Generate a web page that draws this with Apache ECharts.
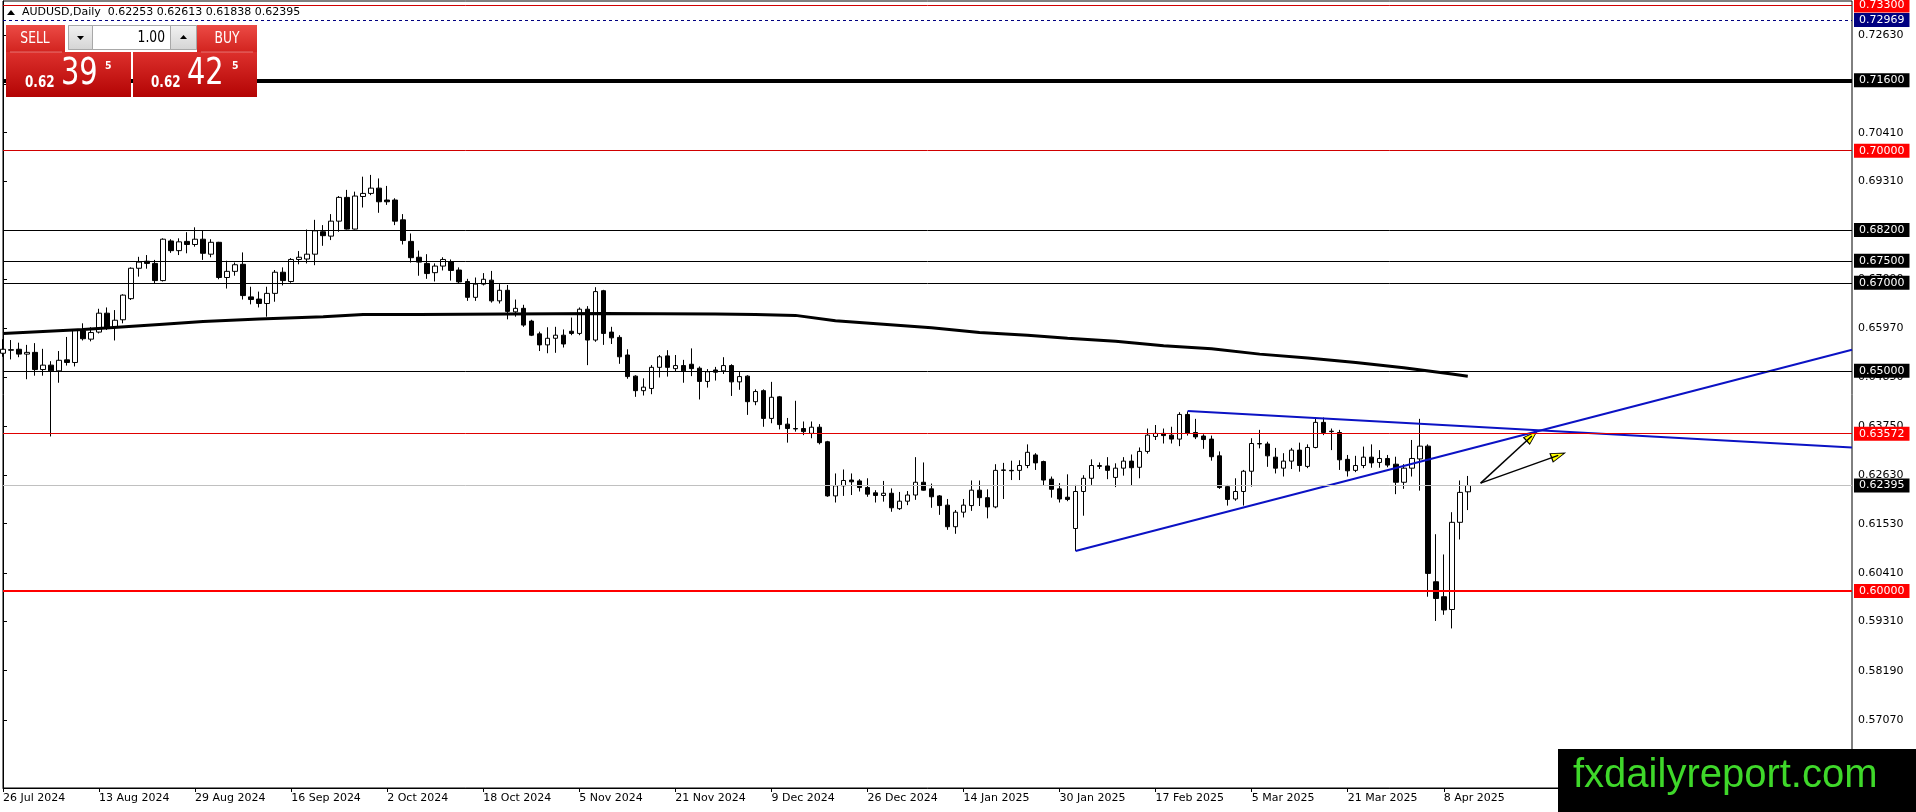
<!DOCTYPE html>
<html>
<head>
<meta charset="utf-8">
<title>AUDUSD Daily</title>
<script src="https://cdn.jsdelivr.net/npm/echarts@6.0.0/dist/echarts.min.js"></script>
<style>
html, body { margin: 0; padding: 0; background: #fff; }
#main { width: 1916px; height: 812px; }
</style>
</head>
<body>
<div id="main"></div>
<script>
var symbolName = 'AUDUSD,Daily';

// daily bars from 26 Jul 2024, [open, high, low, close]
var candles = [
    [0.6540, 0.6572, 0.6532, 0.6549], [0.6548, 0.6570, 0.6526, 0.6547], [0.6549, 0.6564, 0.6531, 0.6538], [0.6538, 0.6559, 0.6481, 0.6542],
    [0.6542, 0.6563, 0.6489, 0.6503], [0.6503, 0.6550, 0.6489, 0.6513], [0.6513, 0.6522, 0.6351, 0.6500], [0.6500, 0.6545, 0.6473, 0.6524],
    [0.6525, 0.6577, 0.6512, 0.6519], [0.6519, 0.6595, 0.6510, 0.6593], [0.6591, 0.6608, 0.6569, 0.6573], [0.6572, 0.6599, 0.6567, 0.6587],
    [0.6588, 0.6641, 0.6585, 0.6631], [0.6631, 0.6644, 0.6593, 0.6598], [0.6600, 0.6638, 0.6569, 0.6615], [0.6616, 0.6674, 0.6608, 0.6672],
    [0.6664, 0.6735, 0.6661, 0.6733], [0.6733, 0.6759, 0.6714, 0.6747], [0.6749, 0.6763, 0.6732, 0.6744], [0.6744, 0.6752, 0.6699, 0.6705],
    [0.6705, 0.6801, 0.6703, 0.6799], [0.6795, 0.6799, 0.6768, 0.6773], [0.6773, 0.6801, 0.6763, 0.6793], [0.6794, 0.6815, 0.6767, 0.6787],
    [0.6787, 0.6826, 0.6782, 0.6799], [0.6799, 0.6818, 0.6752, 0.6767], [0.6765, 0.6799, 0.6758, 0.6792], [0.6792, 0.6793, 0.6708, 0.6712],
    [0.6712, 0.6750, 0.6687, 0.6726], [0.6726, 0.6746, 0.6716, 0.6741], [0.6742, 0.6769, 0.6662, 0.6671], [0.6668, 0.6691, 0.6651, 0.6662],
    [0.6663, 0.6680, 0.6644, 0.6653], [0.6653, 0.6691, 0.6623, 0.6676], [0.6676, 0.6729, 0.6657, 0.6724], [0.6724, 0.6735, 0.6694, 0.6705],
    [0.6703, 0.6756, 0.6700, 0.6753], [0.6753, 0.6772, 0.6742, 0.6758], [0.6754, 0.6821, 0.6744, 0.6765], [0.6765, 0.6843, 0.6740, 0.6818],
    [0.6816, 0.6831, 0.6784, 0.6807], [0.6806, 0.6856, 0.6797, 0.6840], [0.6840, 0.6897, 0.6816, 0.6894], [0.6894, 0.6911, 0.6821, 0.6822],
    [0.6822, 0.6907, 0.6821, 0.6897], [0.6896, 0.6941, 0.6871, 0.6903], [0.6903, 0.6945, 0.6899, 0.6915], [0.6915, 0.6937, 0.6859, 0.6884],
    [0.6888, 0.6920, 0.6877, 0.6884], [0.6888, 0.6892, 0.6831, 0.6840], [0.6843, 0.6856, 0.6787, 0.6796], [0.6794, 0.6812, 0.6746, 0.6757],
    [0.6758, 0.6773, 0.6716, 0.6747], [0.6744, 0.6765, 0.6709, 0.6721], [0.6723, 0.6744, 0.6703, 0.6738], [0.6738, 0.6758, 0.6728, 0.6753],
    [0.6748, 0.6753, 0.6705, 0.6728], [0.6729, 0.6735, 0.6699, 0.6702], [0.6703, 0.6709, 0.6659, 0.6667], [0.6667, 0.6712, 0.6659, 0.6697],
    [0.6697, 0.6722, 0.6694, 0.6708], [0.6706, 0.6727, 0.6655, 0.6659], [0.6659, 0.6697, 0.6653, 0.6683], [0.6683, 0.6695, 0.6617, 0.6635],
    [0.6634, 0.6662, 0.6623, 0.6642], [0.6642, 0.6650, 0.6600, 0.6604], [0.6613, 0.6616, 0.6579, 0.6581], [0.6584, 0.6589, 0.6545, 0.6559],
    [0.6559, 0.6599, 0.6540, 0.6574], [0.6574, 0.6600, 0.6541, 0.6581], [0.6581, 0.6594, 0.6553, 0.6561], [0.6590, 0.6621, 0.6581, 0.6585],
    [0.6585, 0.6644, 0.6581, 0.6640], [0.6640, 0.6647, 0.6513, 0.6570], [0.6570, 0.6690, 0.6566, 0.6680], [0.6682, 0.6684, 0.6559, 0.6585],
    [0.6588, 0.6600, 0.6561, 0.6575], [0.6576, 0.6581, 0.6516, 0.6532], [0.6536, 0.6549, 0.6482, 0.6487], [0.6488, 0.6490, 0.6441, 0.6455],
    [0.6455, 0.6483, 0.6444, 0.6463], [0.6460, 0.6513, 0.6447, 0.6508], [0.6508, 0.6536, 0.6485, 0.6532], [0.6534, 0.6547, 0.6487, 0.6508],
    [0.6505, 0.6536, 0.6498, 0.6512], [0.6512, 0.6525, 0.6473, 0.6500], [0.6515, 0.6551, 0.6488, 0.6505], [0.6506, 0.6510, 0.6435, 0.6476],
    [0.6476, 0.6504, 0.6462, 0.6498], [0.6502, 0.6509, 0.6478, 0.6497], [0.6500, 0.6531, 0.6493, 0.6512], [0.6512, 0.6515, 0.6443, 0.6475],
    [0.6475, 0.6498, 0.6457, 0.6487], [0.6488, 0.6490, 0.6400, 0.6430], [0.6430, 0.6458, 0.6422, 0.6453], [0.6455, 0.6458, 0.6373, 0.6392],
    [0.6392, 0.6475, 0.6381, 0.6440], [0.6441, 0.6443, 0.6367, 0.6378], [0.6379, 0.6393, 0.6337, 0.6369], [0.6369, 0.6432, 0.6362, 0.6368],
    [0.6369, 0.6385, 0.6354, 0.6362], [0.6358, 0.6385, 0.6347, 0.6372], [0.6372, 0.6379, 0.6333, 0.6337], [0.6339, 0.6341, 0.6214, 0.6216],
    [0.6216, 0.6267, 0.6201, 0.6239], [0.6239, 0.6276, 0.6216, 0.6251], [0.6252, 0.6267, 0.6218, 0.6248], [0.6250, 0.6254, 0.6226, 0.6235],
    [0.6235, 0.6256, 0.6214, 0.6220], [0.6223, 0.6229, 0.6201, 0.6217], [0.6217, 0.6250, 0.6203, 0.6222], [0.6222, 0.6233, 0.6180, 0.6189],
    [0.6187, 0.6225, 0.6184, 0.6204], [0.6204, 0.6227, 0.6195, 0.6218], [0.6218, 0.6304, 0.6207, 0.6247], [0.6247, 0.6292, 0.6228, 0.6229],
    [0.6232, 0.6244, 0.6189, 0.6214], [0.6216, 0.6218, 0.6173, 0.6194], [0.6195, 0.6209, 0.6139, 0.6146], [0.6146, 0.6184, 0.6130, 0.6179],
    [0.6179, 0.6209, 0.6167, 0.6195], [0.6194, 0.6251, 0.6182, 0.6229], [0.6229, 0.6251, 0.6193, 0.6212], [0.6212, 0.6231, 0.6165, 0.6191],
    [0.6191, 0.6288, 0.6188, 0.6274], [0.6275, 0.6291, 0.6209, 0.6274], [0.6274, 0.6296, 0.6252, 0.6273], [0.6274, 0.6297, 0.6252, 0.6285],
    [0.6285, 0.6333, 0.6279, 0.6315], [0.6309, 0.6313, 0.6275, 0.6291], [0.6294, 0.6296, 0.6239, 0.6252], [0.6254, 0.6260, 0.6212, 0.6231],
    [0.6232, 0.6245, 0.6201, 0.6209], [0.6213, 0.6265, 0.6204, 0.6208], [0.6142, 0.6241, 0.6091, 0.6226], [0.6226, 0.6263, 0.6171, 0.6256],
    [0.6256, 0.6299, 0.6241, 0.6285], [0.6283, 0.6292, 0.6277, 0.6285], [0.6284, 0.6304, 0.6254, 0.6274], [0.6258, 0.6290, 0.6236, 0.6279],
    [0.6279, 0.6304, 0.6262, 0.6295], [0.6295, 0.6310, 0.6239, 0.6280], [0.6281, 0.6326, 0.6256, 0.6317], [0.6317, 0.6369, 0.6312, 0.6354],
    [0.6351, 0.6377, 0.6343, 0.6358], [0.6358, 0.6369, 0.6335, 0.6353], [0.6354, 0.6373, 0.6335, 0.6345], [0.6345, 0.6406, 0.6329, 0.6401],
    [0.6401, 0.6408, 0.6353, 0.6358], [0.6360, 0.6391, 0.6345, 0.6350], [0.6352, 0.6356, 0.6323, 0.6344], [0.6345, 0.6353, 0.6296, 0.6305],
    [0.6307, 0.6317, 0.6232, 0.6235], [0.6237, 0.6241, 0.6194, 0.6208], [0.6209, 0.6256, 0.6205, 0.6226], [0.6226, 0.6275, 0.6194, 0.6272],
    [0.6272, 0.6347, 0.6237, 0.6335], [0.6334, 0.6366, 0.6324, 0.6335], [0.6334, 0.6339, 0.6282, 0.6307], [0.6304, 0.6325, 0.6267, 0.6279],
    [0.6279, 0.6313, 0.6260, 0.6295], [0.6295, 0.6325, 0.6277, 0.6320], [0.6320, 0.6337, 0.6271, 0.6285], [0.6283, 0.6333, 0.6279, 0.6326],
    [0.6326, 0.6394, 0.6324, 0.6383], [0.6383, 0.6394, 0.6354, 0.6360], [0.6363, 0.6369, 0.6320, 0.6362], [0.6360, 0.6366, 0.6275, 0.6298],
    [0.6299, 0.6309, 0.6260, 0.6273], [0.6274, 0.6307, 0.6270, 0.6285], [0.6285, 0.6328, 0.6279, 0.6304], [0.6304, 0.6333, 0.6280, 0.6291],
    [0.6292, 0.6320, 0.6280, 0.6301], [0.6301, 0.6309, 0.6281, 0.6286], [0.6288, 0.6305, 0.6220, 0.6247], [0.6247, 0.6288, 0.6232, 0.6279],
    [0.6279, 0.6343, 0.6260, 0.6301], [0.6300, 0.6391, 0.6228, 0.6329], [0.6329, 0.6333, 0.5987, 0.6040], [0.6021, 0.6129, 0.5932, 0.5983],
    [0.5987, 0.6083, 0.5946, 0.5957], [0.5958, 0.6179, 0.5915, 0.6156], [0.6156, 0.6251, 0.6117, 0.6224], [0.62253, 0.62613, 0.61838, 0.62395]
];

// moving average: [bar, value]
var maPoints = [
    [0, 0.6585], [10, 0.6594], [20, 0.6606], [25, 0.6612], [32, 0.6618], [40, 0.6623], [45, 0.6628],
    [52, 0.6628], [63, 0.6629], [75, 0.6630], [89, 0.6629], [94, 0.6628], [99, 0.6626], [104, 0.6614],
    [110, 0.6606], [116, 0.6598], [122, 0.6587], [128, 0.6581], [133, 0.6574], [139, 0.6567], [145, 0.6557],
    [151, 0.6550], [157, 0.6538], [163, 0.6529], [169, 0.6519], [175, 0.6507], [181, 0.6493], [183, 0.6488]
];

// trend lines [bar, price]
var supportLine = [[134, 0.6091], [231, 0.6548]];
var resistLine = [[148, 0.6409], [231, 0.6326]];

// the two yellow arrows
var arrowTail = [184.6, 0.6245];
var arrowHeads = [[191.0, 0.6352], [194.3, 0.6308]];

// horizontal levels
var levelValues = [0.73300, 0.72969, 0.71600, 0.70000, 0.68200, 0.67500, 0.67000, 0.65000, 0.63572, 0.62395, 0.60000];

var priceTicks = [0.72630, 0.71520, 0.70410, 0.69310, 0.68200, 0.67090, 0.65970, 0.64850,
    0.63750, 0.62630, 0.61530, 0.60410, 0.59310, 0.58190, 0.57070];

var firstDay = '2024-07-26';
var holidays = ['2024-12-25', '2025-01-01'];
var barCount = 232;
var labelEvery = 12;

var sellPrice = ['0.62', '39', '5'];
var buyPrice = ['0.62', '42', '5'];
var lotSize = '1.00';

// ---------------------------------------------------------------

var monthNames = ['Jan', 'Feb', 'Mar', 'Apr', 'May', 'Jun', 'Jul', 'Aug', 'Sep', 'Oct', 'Nov', 'Dec'];

function tradingDays(start, count) {
    var out = [];
    var d = new Date(start + 'T00:00:00Z');
    while (out.length < count) {
        var wd = d.getUTCDay();
        var iso = d.toISOString().slice(0, 10);
        if (wd !== 0 && wd !== 6 && holidays.indexOf(iso) < 0) {
            out.push(d.getUTCDate() + ' ' + monthNames[d.getUTCMonth()] + ' ' + d.getUTCFullYear());
        }
        d.setUTCDate(d.getUTCDate() + 1);
    }
    return out;
}

var dates = tradingDays(firstDay, barCount);
var lastBar = candles.length - 1;

function showDate(index) {
    return index % labelEvery === 0 && index <= lastBar;
}

var levelLook = [
    { line: '#d00000', width: 1, type: 'solid', box: '#ff0000' },
    { line: '#000080', width: 1, type: [3, 3], box: '#000080' },
    { line: '#000000', width: 4, type: 'solid', box: '#000000' },
    { line: '#d00000', width: 1, type: 'solid', box: '#ff0000' },
    { line: '#000000', width: 1, type: 'solid', box: '#000000' },
    { line: '#000000', width: 1, type: 'solid', box: '#000000' },
    { line: '#000000', width: 1, type: 'solid', box: '#000000' },
    { line: '#000000', width: 1, type: 'solid', box: '#000000' },
    { line: '#e00000', width: 1, type: 'solid', box: '#ff0000' },
    { line: '#c0c0c0', width: 1, type: 'solid', box: '#000000' },
    { line: '#ff0000', width: 2, type: 'solid', box: '#ff0000' }
];

var font = 'DejaVu Sans';

var levelData = levelValues.map(function (v, i) {
    var s = levelLook[i];
    return {
        yAxis: v,
        lineStyle: { color: s.line, width: s.width, type: s.type },
        label: { backgroundColor: s.box }
    };
});

var arrowTurn = [-47, -70];

var redTop = new echarts.graphic.LinearGradient(0, 0, 0, 1, [
    { offset: 0, color: '#ec4b45' }, { offset: 1, color: '#d2231f' }
]);
var redBig = new echarts.graphic.LinearGradient(0, 0, 0, 1, [
    { offset: 0, color: '#dd302c' }, { offset: 1, color: '#b30404' }
]);
var greyBtn = new echarts.graphic.LinearGradient(0, 0, 0, 1, [
    { offset: 0, color: '#f2f2f2' }, { offset: 1, color: '#d4d4d4' }
]);

function txt(x, y, text, size, opts) {
    opts = opts || {};
    return {
        type: 'text', x: x, y: y, z: 101,
        scaleX: opts.sx || 1,
        style: {
            text: text, fill: opts.fill || '#fff',
            fontFamily: opts.family || font, fontSize: size,
            fontWeight: opts.bold ? 'bold' : 'normal',
            align: opts.align || 'left', verticalAlign: 'middle'
        }
    };
}

var last = candles[lastBar];
var headerText = symbolName + '  ' + [last[0], last[1], last[2], last[3]].map(function (v) {
    return v.toFixed(5);
}).join(' ');

var panel = [
    // header
    { type: 'polygon', z: 101, shape: { points: [[7, 15], [15, 15], [11, 10]] }, style: { fill: '#000' } },
    txt(22, 12, headerText, 11, { fill: '#000' }),
    // sell / buy buttons
    { type: 'rect', z: 100, shape: { x: 6, y: 25, width: 59, height: 27 }, style: { fill: redTop } },
    { type: 'rect', z: 100, shape: { x: 197, y: 25, width: 60, height: 27 }, style: { fill: redTop } },
    { type: 'rect', z: 100, shape: { x: 6, y: 52, width: 125, height: 45 }, style: { fill: redBig } },
    { type: 'rect', z: 100, shape: { x: 133, y: 52, width: 124, height: 45 }, style: { fill: redBig } },
    { type: 'line', z: 101, shape: { x1: 10, y1: 52, x2: 62, y2: 52 }, style: { stroke: 'rgba(255,255,255,0.35)', lineWidth: 1 } },
    { type: 'line', z: 101, shape: { x1: 201, y1: 52, x2: 253, y2: 52 }, style: { stroke: 'rgba(255,255,255,0.35)', lineWidth: 1 } },
    txt(35, 39, 'SELL', 15, { align: 'center', sx: 0.82 }),
    txt(227, 39, 'BUY', 15, { align: 'center', sx: 0.82 }),
    // lot spinner
    { type: 'rect', z: 100, shape: { x: 68.5, y: 25.5, width: 128, height: 24 }, style: { fill: '#fff', stroke: '#a8a8a8', lineWidth: 1 } },
    { type: 'rect', z: 100, shape: { x: 68.5, y: 25.5, width: 24, height: 24 }, style: { fill: greyBtn, stroke: '#a8a8a8', lineWidth: 1 } },
    { type: 'rect', z: 100, shape: { x: 170.5, y: 25.5, width: 26, height: 24 }, style: { fill: greyBtn, stroke: '#a8a8a8', lineWidth: 1 } },
    { type: 'polygon', z: 101, shape: { points: [[77, 36], [84, 36], [80.5, 40]] }, style: { fill: '#000' } },
    { type: 'polygon', z: 101, shape: { points: [[180, 39], [187, 39], [183.5, 35]] }, style: { fill: '#000' } },
    txt(165, 38, lotSize, 15, { align: 'right', sx: 0.82, fill: '#000' }),
    // prices
    txt(25, 83, sellPrice[0], 15, { bold: true, sx: 0.8 }),
    txt(61, 74, sellPrice[1], 38, { sx: 0.76 }),
    txt(105, 66, sellPrice[2], 11, { bold: true, sx: 0.85 }),
    txt(151, 83, buyPrice[0], 15, { bold: true, sx: 0.8 }),
    txt(187, 74, buyPrice[1], 38, { sx: 0.76 }),
    txt(232, 66, buyPrice[2], 11, { bold: true, sx: 0.85 }),
    // watermark
    { type: 'rect', z: 100, shape: { x: 1558, y: 749, width: 358, height: 63 }, style: { fill: '#000' } },
    txt(1573, 776, 'fxdailyreport.com', 40, { fill: '#3fd82a', family: 'Liberation Sans' })
];

var chart = echarts.init(document.getElementById('main'));

chart.setOption({
    animation: false,
    backgroundColor: '#fff',
    grid: {
        left: 3, right: 64, top: 1, bottom: 24,
        outerBoundsMode: 'none',
        show: true, borderColor: '#000', borderWidth: 1, backgroundColor: '#fff'
    },
    xAxis: [{
        type: 'category',
        data: dates,
        boundaryGap: false,
        axisLine: { lineStyle: { color: '#000', width: 1 } },
        axisTick: { show: true, interval: showDate, length: 4, lineStyle: { color: '#000' } },
        axisLabel: {
            interval: showDate, align: 'left', margin: 5,
            color: '#000', fontFamily: font, fontSize: 11
        },
        splitLine: { show: false }
    }, {
        type: 'value', min: 0, max: barCount - 1, show: false
    }],
    yAxis: {
        type: 'value',
        position: 'right',
        min: 0.55526, max: 0.734,
        axisLine: { show: true, lineStyle: { color: '#000', width: 1 } },
        axisTick: { show: true, customValues: priceTicks, length: 4, lineStyle: { color: '#000' } },
        axisLabel: {
            customValues: priceTicks, margin: 6,
            color: '#000', fontFamily: font, fontSize: 11,
            formatter: function (v) { return v.toFixed(5); }
        },
        splitLine: { show: false }
    },
    series: [{
        type: 'candlestick',
        name: symbolName,
        barWidth: 5,
        data: candles.map(function (c) { return [c[0], c[3], c[2], c[1]]; }),
        itemStyle: { color: '#ffffff', color0: '#000000', borderColor: '#000000', borderColor0: '#000000', borderWidth: 1 },
        markLine: {
            silent: true,
            symbol: ['none', 'none'],
            precision: 5,
            animation: false,
            label: {
                show: true, position: 'end', distance: 2,
                color: '#fff', fontFamily: font, fontSize: 11,
                padding: [2, 5, 1, 5],
                formatter: function (p) { return levelValues[p.dataIndex].toFixed(5); }
            },
            data: levelData
        }
    }, {
        type: 'line', name: 'MA', xAxisIndex: 1,
        data: maPoints, showSymbol: false, silent: true,
        lineStyle: { color: '#000', width: 3 }
    }, {
        type: 'line', name: 'support', xAxisIndex: 1,
        data: supportLine, showSymbol: false, silent: true,
        lineStyle: { color: '#0b12c4', width: 2 }
    }, {
        type: 'line', name: 'resistance', xAxisIndex: 1,
        data: resistLine, showSymbol: false, silent: true,
        lineStyle: { color: '#0b12c4', width: 2 }
    }, {
        type: 'line', name: 'arrow1', xAxisIndex: 1,
        data: [arrowTail, arrowHeads[0]], showSymbol: false, silent: true,
        lineStyle: { color: '#000', width: 1.5 }
    }, {
        type: 'line', name: 'arrow2', xAxisIndex: 1,
        data: [arrowTail, arrowHeads[1]], showSymbol: false, silent: true,
        lineStyle: { color: '#000', width: 1.5 }
    }, {
        type: 'scatter', name: 'heads', xAxisIndex: 1, silent: true,
        symbol: 'triangle', symbolSize: [9, 14],
        data: arrowHeads.map(function (h, i) {
            return { value: h, symbolRotate: arrowTurn[i] };
        }),
        itemStyle: { color: '#ffff00', borderColor: '#000', borderWidth: 1, opacity: 1 }
    }],
    graphic: { elements: panel }
});
</script>
</body>
</html>
